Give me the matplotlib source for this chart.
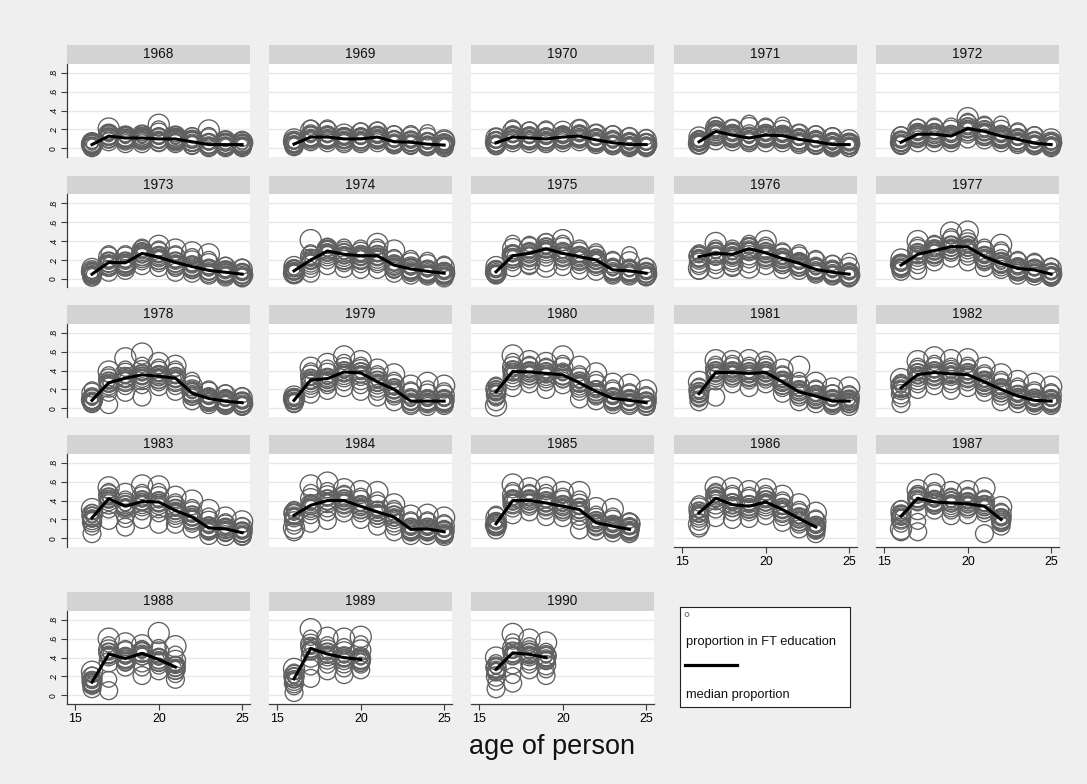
import matplotlib
matplotlib.use("Agg")
import matplotlib.pyplot as plt
from matplotlib.lines import Line2D

W, H = 1087, 784

YEARS = list(range(1968, 1991))
FIRST_AGE = 16
X_TICKS = [15, 20, 25]
Y_TICKS = [0, 0.2, 0.4, 0.6, 0.8]
Y_TICK_LABELS = ["0", ".2", ".4", ".6", ".8"]
X_LABEL = "age of person"
LEGEND_LABELS = ["proportion in FT education", "median proportion"]

# median proportion by age (from 16 upward)
MEDIANS = {
    1968: [.04, .13, .11, .11, .10, .10, .07, .04, .04, .04],
    1969: [.045, .12, .12, .10, .10, .12, .07, .065, .045, .035],
    1970: [.06, .12, .11, .10, .12, .13, .09, .06, .04, .04],
    1971: [.07, .18, .14, .11, .14, .135, .095, .07, .04, .04],
    1972: [.065, .15, .15, .13, .21, .18, .13, .095, .055, .04],
    1973: [.05, .175, .17, .27, .23, .175, .13, .09, .07, .05],
    1974: [.085, .20, .295, .26, .245, .245, .145, .105, .08, .06],
    1975: [.075, .245, .27, .32, .27, .235, .20, .095, .085, .06],
    1976: [.235, .27, .26, .32, .275, .215, .165, .10, .07, .05],
    1977: [.145, .26, .30, .34, .34, .235, .165, .11, .095, .05],
    1978: [.085, .27, .32, .355, .34, .32, .16, .105, .075, .06],
    1979: [.085, .30, .315, .385, .375, .28, .20, .077, .077, .077],
    1980: [.175, .39, .385, .37, .355, .27, .18, .105, .085, .06],
    1981: [.155, .38, .38, .37, .38, .28, .175, .13, .077, .077],
    1982: [.217, .357, .38, .365, .357, .28, .20, .13, .085, .077],
    1983: [.217, .42, .34, .39, .385, .295, .225, .11, .10, .06],
    1984: [.245, .35, .40, .40, .34, .28, .225, .095, .10, .07],
    1985: [.155, .40, .40, .375, .34, .305, .165, .13, .095],
    1986: [.27, .425, .357, .34, .385, .305, .21, .12],
    1987: [.235, .425, .385, .375, .365, .34, .20],
    1988: [.14, .437, .39, .445, .38, .30],
    1989: [.175, .497, .437, .40, .38],
    1990: [.276, .45, .434, .40],
}

# individual proportions in percent (one list per age, from 16 upward)
CIRCLES_PCT = {
    1968: [[2,3,4,5,6,8,4,1,3,4,5,7],[7,9,11,13,15,17,21,10,12,13,14,16],[5,8,10,11,13,15,12,8,10,11,12,14],
           [5,8,10,12,14,16,11,8,10,11,12,14],[6,9,11,13,16,21,25,7,9,10,11,13],[5,7,9,11,13,15,10,7,9,10,11,13],
           [3,5,7,9,11,14,8,4,6,7,8,10],[2,3,5,7,10,14,19,1,3,4,5,7],[2,3,4,6,8,10,5,1,3,4,5,7],
           [2,3,4,5,7,10,6,1,3,4,5,7]],
    1969: [[3,5,6,8,10,4,7,2,4,5,6,8],[7,10,13,16,19,22,12,9,11,12,13,15],[6,9,12,15,18,22,11,9,11,12,13,15],
           [5,8,10,12,15,9,11,7,9,10,11,13],[5,8,10,13,16,19,9,7,9,10,11,13],[6,9,12,14,17,20,11,9,11,12,13,15],
           [4,6,8,10,13,16,7,4,6,7,8,10],[3,5,7,9,12,16,6,4,6,7,8,10],[2,4,6,8,11,17,5,2,4,5,6,8],
           [2,3,5,6,9,4,7,1,3,4,5,6]],
    1970: [[3,5,7,9,11,13,6,3,5,6,7,9],[6,9,12,15,18,22,11,9,11,12,13,15],[5,8,11,14,17,20,10,8,10,11,12,14],
           [5,8,10,13,17,21,9,7,9,10,11,13],[6,9,12,15,18,13,11,9,11,12,13,15],[7,10,13,16,20,22,12,10,12,13,14,16],
           [4,6,9,12,15,17,8,6,8,9,10,12],[3,5,7,10,13,16,6,3,5,6,7,9],[2,4,6,8,11,14,5,1,3,4,5,7],
           [2,3,5,7,9,12,4,1,3,4,5,7]],
    1971: [[4,6,8,10,12,7,5,4,6,7,8,10],[8,12,16,19,22,25,14,15,17,18,19,21],[7,10,13,16,20,22,12,11,13,14,15,17],
           [6,9,12,16,22,27,10,8,10,11,12,14],[6,10,13,16,20,24,12,11,13,14,15,17],[6,9,12,15,19,25,11,10,12,13,14,16],
           [4,7,9,12,15,17,8,6,8,9,10,12],[3,5,7,10,13,16,6,4,6,7,8,10],[2,4,6,8,11,14,5,1,3,4,5,7],
           [1,3,4,6,9,2,5,1,3,4,5,7]],
    1972: [[3,5,7,9,12,15,6,4,6,7,8,10],[6,10,14,17,20,23,12,12,14,15,16,18],[6,10,13,16,20,24,12,12,14,15,16,18],
           [6,9,12,15,19,24,11,10,12,13,14,16],[10,14,18,21,25,29,32,18,20,21,22,24],[9,12,15,18,22,26,14,15,17,18,19,21],
           [6,9,12,15,19,26,11,10,12,13,14,16],[4,7,9,12,15,19,8,6,8,9,10,12],[3,5,7,9,12,15,6,3,5,6,7,9],
           [2,3,5,7,10,4,6,1,3,4,5,7]],
    1973: [[3,5,7,9,11,6,8,2,4,5,6,8],[7,11,15,19,23,27,14,14,16,17,18,20],[9,12,16,19,23,27,14,14,16,17,18,20],
           [14,18,22,26,30,34,25,24,26,27,28,30],[12,16,20,24,28,32,35,20,22,23,24,26],[7,11,15,19,23,27,31,14,16,17,18,20],
           [6,9,12,15,19,24,28,10,12,13,14,16],[4,7,9,12,16,21,26,6,8,9,10,12],[2,4,6,9,12,15,8,4,6,7,8,10],
           [1,3,5,7,10,13,4,2,4,5,6,8]],
    1974: [[5,7,9,11,13,8,6,6,8,9,10,12],[6,10,15,20,24,28,41,17,19,20,21,23],[14,19,24,28,32,35,30,26,28,29,30,32],
           [11,16,20,25,29,34,22,23,25,26,27,29],[10,15,20,24,28,33,22,21,23,24,25,27],[10,15,19,24,29,34,37,21,23,24,25,27],
           [6,9,12,15,19,23,30,11,13,14,15,17],[4,7,10,13,17,22,12,7,9,10,11,13],[3,5,8,11,15,20,7,5,7,8,9,11],
           [1,3,5,8,12,16,6,3,5,6,7,9]],
    1975: [[4,6,8,10,13,5,7,5,7,8,9,11],[12,17,22,27,32,38,25,21,23,24,25,27],[14,18,23,28,33,37,17,24,26,27,28,30],
           [17,22,27,32,37,40,13,29,31,32,33,35],[13,18,23,28,33,38,41,24,26,27,28,30],[9,14,19,24,28,33,22,20,22,23,24,26],
           [8,12,16,20,24,29,18,17,19,20,21,23],[4,7,10,13,17,21,9,6,8,9,10,12],[3,6,9,12,18,26,8,5,7,8,9,11],
           [2,4,6,8,11,14,5,3,5,6,7,9]],
    1976: [[9,13,17,21,24,28,11,20,22,23,24,26],[10,14,19,24,28,33,38,24,26,27,28,30],[12,16,20,24,28,33,15,23,25,26,27,29],
           [16,20,25,29,33,38,12,29,31,32,33,35],[14,19,23,27,31,36,40,24,26,27,28,30],[10,14,18,22,26,30,17,18,20,21,22,24],
           [9,12,16,19,23,28,14,13,15,16,17,19],[5,8,11,14,18,22,10,7,9,10,11,13],[3,5,8,11,14,17,7,4,6,7,8,10],
           [1,3,5,8,12,19,4,2,4,5,6,8]],
    1977: [[8,11,14,17,21,12,15,11,13,14,15,17],[9,14,20,26,31,36,40,23,25,26,27,29],[18,22,26,30,34,38,28,27,29,30,31,33],
           [22,27,31,36,40,45,49,31,33,34,35,37],[18,23,28,33,38,44,50,31,33,34,35,37],[12,17,21,25,29,34,22,20,22,23,24,26],
           [10,14,18,22,26,31,36,13,15,16,17,19],[4,7,10,13,17,21,9,8,10,11,12,14],[3,6,9,12,15,19,8,6,8,9,10,12],
           [2,4,6,8,11,14,5,2,4,5,6,8]],
    1978: [[5,8,10,13,16,20,9,6,8,9,10,12],[4,16,22,27,31,36,39,24,26,27,28,30],[17,23,28,32,37,42,53,29,31,32,33,35],
           [12,24,30,35,40,46,58,32,34,35,36,38],[23,27,31,35,39,44,48,31,33,34,35,37],[18,23,28,32,37,42,45,29,31,32,33,35],
           [8,12,16,20,24,30,19,13,15,16,17,19],[4,7,10,13,17,21,8,7,9,10,11,13],[3,5,8,11,14,17,6,5,7,8,9,11],
           [2,4,6,8,11,14,5,3,5,6,7,9]],
    1979: [[5,7,9,11,13,8,10,6,8,9,10,12],[15,20,25,30,35,40,43,27,29,30,31,33],[19,24,28,32,37,43,47,28,30,31,32,34],
           [22,27,33,38,43,49,55,35,37,38,39,41],[18,24,30,36,41,46,50,34,36,37,38,40],[12,17,22,27,32,37,41,25,27,28,29,31],
           [7,12,16,20,25,30,36,17,19,20,21,23],[3,6,9,12,16,20,24,5,7,8,9,11],[2,5,8,11,15,21,27,5,7,8,9,11],
           [3,5,8,11,14,19,24,5,7,8,9,11]],
    1980: [[7,11,14,18,21,25,3,15,17,18,19,21],[22,28,33,39,44,50,56,36,38,39,40,42],[26,30,35,39,43,47,50,35,37,38,39,41],
           [20,27,32,37,41,45,48,34,36,37,38,40],[25,30,35,39,43,48,55,32,34,35,36,38],[10,17,22,27,32,37,44,24,26,27,28,30],
           [8,12,16,20,25,31,37,15,17,18,19,21],[4,7,10,13,17,22,26,7,9,10,11,13],[3,6,8,11,14,18,25,5,7,8,9,11],
           [2,4,6,8,11,15,19,3,5,6,7,9]],
    1981: [[7,10,13,16,20,24,28,13,15,16,17,19],[12,28,33,38,42,47,51,35,37,38,39,41],[26,31,35,39,43,48,50,35,37,38,39,41],
           [22,29,33,37,41,46,51,34,36,37,38,40],[26,30,34,38,42,47,49,35,37,38,39,41],[16,21,25,29,33,37,41,25,27,28,29,31],
           [7,11,15,19,24,30,44,15,17,18,19,21],[5,8,11,14,18,22,27,10,12,13,14,16],[3,5,8,11,14,17,21,5,7,8,9,11],
           [2,4,6,9,12,16,22,5,7,8,9,11]],
    1982: [[5,10,15,20,24,28,31,19,21,22,23,25],[20,25,30,35,40,45,50,33,35,36,37,39],[24,29,34,38,43,48,54,35,37,38,39,41],
           [19,25,30,35,40,45,51,34,36,37,38,40],[22,27,32,36,41,46,52,33,35,36,37,39],[17,21,25,29,33,38,43,25,27,28,29,31],
           [7,12,17,21,26,31,36,17,19,20,21,23],[5,8,11,15,19,24,29,10,12,13,14,16],[3,5,8,11,15,20,26,6,8,9,10,12],
           [3,5,8,11,14,18,23,5,7,8,9,11]],
    1983: [[5,12,17,21,25,28,31,19,21,22,23,25],[19,30,36,42,46,50,54,39,41,42,43,45],[12,20,26,32,37,42,47,31,33,34,35,37],
           [20,28,34,39,44,49,56,36,38,39,40,42],[15,26,32,38,44,50,55,35,37,38,39,41],[15,20,25,29,34,39,44,27,29,30,31,33],
           [10,15,19,23,28,33,40,20,22,23,24,26],[3,7,10,14,18,24,30,8,10,11,12,14],[2,5,8,11,14,18,22,7,9,10,11,13],
           [2,4,6,8,11,14,18,3,5,6,7,9]],
    1984: [[7,13,18,23,27,31,11,22,24,25,26,28],[16,24,30,36,42,49,56,32,34,35,36,38],[19,27,33,39,45,51,59,37,39,40,41,43],
           [27,31,36,40,44,48,52,37,39,40,41,43],[20,26,31,35,40,45,50,31,33,34,35,37],[13,20,25,30,35,41,49,25,27,28,29,31],
           [7,12,17,22,27,32,36,20,22,23,24,26],[3,6,9,12,16,20,24,7,9,10,11,13],[3,6,9,12,16,20,25,7,9,10,11,13],
           [2,4,7,10,13,17,22,4,6,7,8,10]],
    1985: [[9,12,15,18,22,26,14,13,15,16,17,19],[25,31,36,41,46,51,57,37,39,40,41,43],[28,33,37,41,45,49,53,37,39,40,41,43],
           [23,29,34,38,43,49,54,35,37,38,39,41],[22,27,31,35,40,45,49,31,33,34,35,37],[9,18,24,30,36,42,49,28,30,31,32,34],
           [8,11,14,17,21,26,32,14,16,17,18,20],[6,9,12,15,19,24,31,10,12,13,14,16],[5,7,10,13,16,19,15,7,9,10,11,13]],
    1986: [[11,17,22,27,32,37,15,24,26,27,28,30],[22,30,36,42,46,50,54,40,42,43,44,46],[20,27,33,38,43,48,53,33,35,36,37,39],
           [21,27,32,36,41,46,50,31,33,34,35,37],[24,29,34,38,43,48,52,36,38,39,40,42],[17,22,27,31,36,41,45,28,30,31,32,34],
           [10,14,18,22,26,31,36,18,20,21,22,24],[5,8,11,14,18,22,27,9,11,12,13,15]],
    1987: [[7,15,20,25,29,32,10,21,23,24,25,27],[7,18,30,38,43,48,51,40,42,43,44,46],[30,34,38,42,46,51,57,36,38,39,40,42],
           [24,29,33,37,41,45,49,35,37,38,39,41],[25,30,34,38,42,46,50,34,36,37,38,40],[5,26,31,35,39,43,53,31,33,34,35,37],
           [13,16,19,22,25,29,33,17,19,20,21,23]],
    1988: [[7,10,13,16,19,22,25,11,13,14,15,17],[5,17,35,42,48,54,60,41,43,44,45,47],[30,34,38,42,46,50,55,36,38,39,40,42],
           [21,29,35,41,46,50,53,42,44,45,46,48],[26,31,36,41,46,51,66,35,37,38,39,41],[17,22,27,32,37,44,52,27,29,30,31,33]],
    1989: [[3,9,13,17,21,25,28,15,17,18,19,21],[18,30,40,47,54,61,70,47,49,50,51,53],[26,32,38,43,48,54,61,41,43,44,45,47],
           [22,28,34,40,46,52,60,37,39,40,41,43],[27,32,37,42,48,55,62,35,37,38,39,41]],
    1990: [[7,14,20,25,30,35,40,25,27,28,29,31],[13,21,33,42,50,57,65,42,44,45,46,48],[27,32,37,42,47,53,59,41,43,44,45,47],
           [21,27,32,37,42,47,56,37,39,40,41,43]],
}

# relative weight (marker area) of the n-th circle in each age group
CIRCLE_AREAS = [165, 130, 190, 145, 210, 120, 230, 175, 155, 65, 200, 110]

BG = "#efefef"
STRIP = "#d3d3d3"
CIRC = "#606060"
GRID = "#e8e8e8"
AXC = "#3c3c3c"

plt.rcParams['font.family'] = ['Liberation Sans', 'DejaVu Sans']

fig = plt.figure(figsize=(W / 100, H / 100), dpi=100)
fig.patch.set_facecolor(BG)

col_left = [67, 269, 471, 674, 876]
panel_w = 183
row_top = [45, 175.5, 305, 435, 592]
strip_h = 18.5
plot_h = 93.3

def px_rect(x, y, w, h):
    return [x / W, 1 - (y + h) / H, w / W, h / H]

ncols = 5
nyears = len(YEARS)
for i, year in enumerate(YEARS):
    r, c = divmod(i, ncols)
    x0 = col_left[c]
    y0 = row_top[r]
    # strip
    sax = fig.add_axes(px_rect(x0, y0, panel_w, strip_h))
    sax.set_facecolor(STRIP)
    sax.set_xticks([]); sax.set_yticks([])
    for sp in sax.spines.values():
        sp.set_visible(False)
    sax.text(0.5, 0.5, str(year), ha='center', va='center', fontsize=9.8,
             color='#111111', transform=sax.transAxes)
    # plot
    ax = fig.add_axes(px_rect(x0, y0 + strip_h, panel_w, plot_h))
    ax.set_facecolor('white')
    ax.set_xlim(14.5, 25.47)
    ax.set_ylim(-0.089, 0.898)
    for yt in Y_TICKS:
        ax.axhline(yt, color=GRID, lw=1.0, zorder=0)
    groups = CIRCLES_PCT[year]
    for k, vals in enumerate(groups):
        age = FIRST_AGE + k
        ax.scatter([age] * len(vals), [v / 100 for v in vals],
                   s=CIRCLE_AREAS[:len(vals)],
                   facecolors='none', edgecolors=CIRC, linewidths=0.95,
                   clip_on=False, zorder=2)
    med = MEDIANS[year]
    ages = list(range(FIRST_AGE, FIRST_AGE + len(med)))
    ax.plot(ages, med, color='black', lw=2.2, zorder=3, clip_on=False,
            solid_joinstyle='round')
    for sp in ax.spines.values():
        sp.set_visible(False)
    # y axis on first column
    if c == 0:
        ax.spines['left'].set_visible(True)
        ax.spines['left'].set_color(AXC)
        ax.spines['left'].set_linewidth(0.9)
        ax.set_yticks(Y_TICKS)
        ax.set_yticklabels(Y_TICK_LABELS, rotation=90, va='center', fontsize=6.2)
        ax.tick_params(axis='y', length=4, width=0.8, color=AXC, pad=2.5)
    else:
        ax.set_yticks([])
    # x axis on bottom-most panel of each column
    bottom = (i + ncols >= nyears)
    if bottom:
        ax.spines['bottom'].set_visible(True)
        ax.spines['bottom'].set_color(AXC)
        ax.spines['bottom'].set_linewidth(0.9)
        ax.set_xticks(X_TICKS)
        ax.set_xticklabels([str(t) for t in X_TICKS], fontsize=8.9)
        ax.tick_params(axis='x', length=4, width=0.8, color=AXC, pad=2.5)
    else:
        ax.set_xticks([])

# x axis title
fig.text(552 / W, 1 - 747 / H, X_LABEL, ha='center', va='center', fontsize=19.5,
         color='#111111')

# legend box
lax = fig.add_axes(px_rect(680, 607, 170, 100))
lax.set_facecolor('white')
lax.set_xlim(0, 170); lax.set_ylim(100, 0)
lax.set_xticks([]); lax.set_yticks([])
for sp in lax.spines.values():
    sp.set_color('#222222'); sp.set_linewidth(0.8)
lax.scatter([7], [7.5], s=8, facecolors='none', edgecolors=CIRC, linewidths=0.6)
lax.text(6, 35, LEGEND_LABELS[0], ha='left', va='center', fontsize=9.3, color='#111111')
lax.add_line(Line2D([5, 57], [58, 58], color='black', lw=2.3))
lax.text(6, 88, LEGEND_LABELS[1], ha='left', va='center', fontsize=9.3, color='#111111')

fig.savefig("out.png", dpi=100, facecolor=BG)
